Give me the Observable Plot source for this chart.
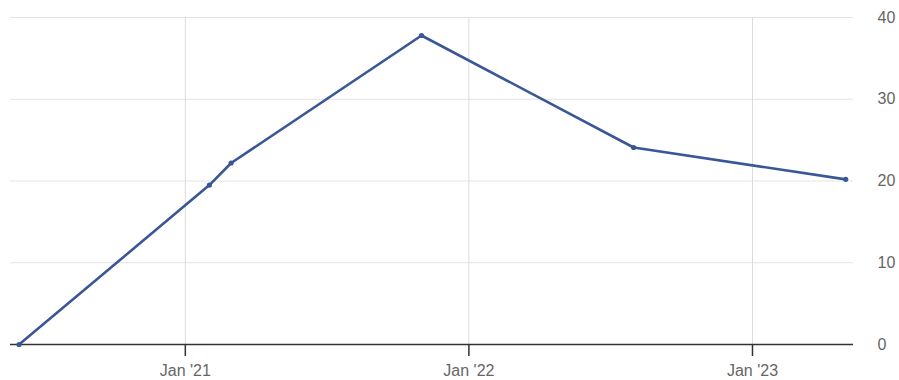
<!DOCTYPE html>
<html>
<head>
<meta charset="utf-8">
<script src="https://cdn.jsdelivr.net/npm/d3@7"></script>
<script src="https://cdn.jsdelivr.net/npm/@observablehq/plot@0.6"></script>
<style>
  html, body { margin: 0; padding: 0; background: #fff; }
  #chart svg { display: block; font-family: "Liberation Sans", Arial, sans-serif; }
</style>
</head>
<body>
<div id="chart"></div>
<script>
const dates = ["2020-06-01", "2021-02-01", "2021-03-01", "2021-11-01", "2022-08-01", "2023-05-01"];
const values = [0, 19.5, 22.2, 37.8, 24.1, 20.2];
const xTicks = ["2021-01-01", "2022-01-01", "2023-01-01"];
const yTicks = [0, 10, 20, 30, 40];

const data = dates.map((d, i) => ({date: new Date(d + "T00:00:00Z"), value: values[i]}));
const xTickDates = xTicks.map(d => new Date(d + "T00:00:00Z"));
const lineColor = "#3a5795";

const chart = Plot.plot({
  width: 899,
  height: 380,
  marginLeft: 10,
  marginRight: 46,
  marginTop: 17,
  marginBottom: 36,
  style: {fontSize: "16px", color: "#666", background: "#fff"},
  x: {
    type: "utc",
    domain: [new Date("2020-05-21T00:00:00Z"), new Date("2023-05-11T00:00:00Z")]
  },
  y: {domain: [0, 40]},
  marks: [
    Plot.gridY(yTicks, {stroke: "#e3e3e3", strokeOpacity: 1, strokeWidth: 1}),
    Plot.gridX(xTickDates, {stroke: "#dcdcdc", strokeOpacity: 1, strokeWidth: 1}),
    Plot.axisY(yTicks, {
      anchor: "right", tickSize: 0, tickPadding: 24, textAnchor: "start",
      fill: "#666", fontSize: 16, label: null
    }),
    Plot.axisX(xTickDates, {
      anchor: "bottom", tickSize: 12, tickPadding: 8, stroke: "#333", strokeWidth: 1.5,
      fill: "#666", fontSize: 16, label: null,
      tickFormat: d => `Jan '${String(d.getUTCFullYear()).slice(2)}`
    }),
    Plot.ruleY([0], {stroke: "#333", strokeWidth: 1.5}),
    Plot.line(data, {x: "date", y: "value", stroke: lineColor, strokeWidth: 2.6}),
    Plot.dot(data, {x: "date", y: "value", r: 2.6, fill: lineColor, stroke: "none"})
  ]
});
document.getElementById("chart").appendChild(chart);
</script>
</body>
</html>
